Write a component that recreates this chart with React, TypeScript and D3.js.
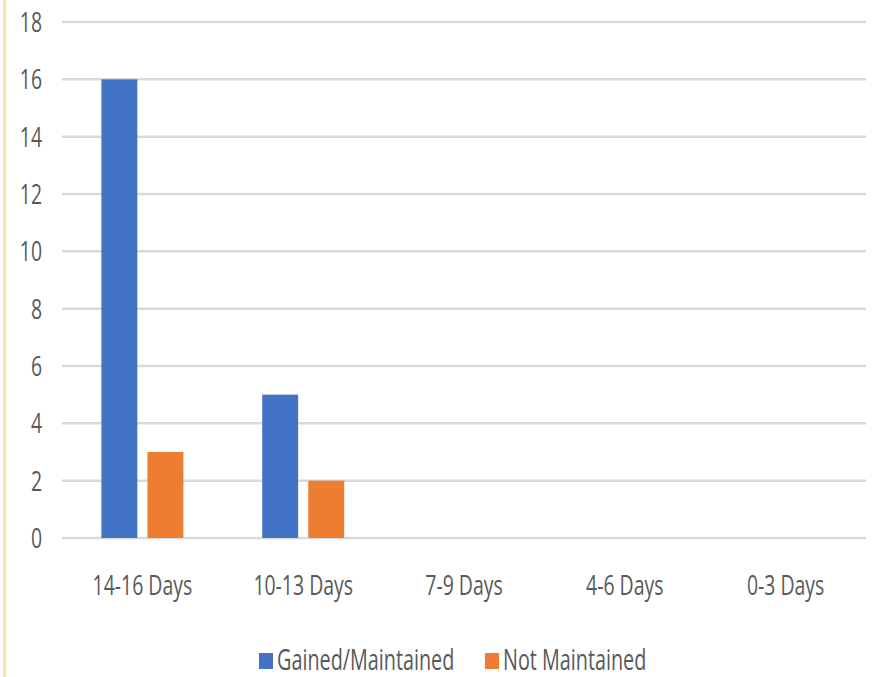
import React from "react";
import * as d3 from "d3";

const categories = ["14-16 Days", "10-13 Days", "7-9 Days", "4-6 Days", "0-3 Days"];
const seriesNames = ["Gained/Maintained", "Not Maintained"];
const gainedValues = [16, 5, 0, 0, 0];
const notMaintainedValues = [3, 2, 0, 0, 0];
const yTicks = [0, 2, 4, 6, 8, 10, 12, 14, 16, 18];
const colors = ["#4472C4", "#ED7D31"];

const W = 875;
const H = 677;
const FONT = "'Open Sans', 'Liberation Sans', sans-serif";
const SX = 0.72;

export default function App() {
  const y = d3.scaleLinear().domain([0, 18]).range([538, 22]);
  const x0 = d3
    .scaleBand<string>()
    .domain(categories)
    .range([62, 866])
    .paddingInner(0.49)
    .paddingOuter(0.245);
  const x1 = d3
    .scaleBand<string>()
    .domain(seriesNames)
    .range([0, x0.bandwidth()])
    .paddingInner(0.22);
  const seriesValues = [gainedValues, notMaintainedValues];

  return (
    <div style={{ position: "absolute", left: 0, top: 0 }}>
      <svg width={W} height={H} style={{ display: "block", background: "#fff" }}>
        <rect x={0} y={0} width={W} height={H} fill="#fff" />
        <rect x={3} y={0} width={3} height={H} fill="#fbe3a2" />
        {yTicks.map((t) => (
          <g key={t}>
            <line x1={62} x2={866} y1={y(t)} y2={y(t)} stroke="#d9d9d9" strokeWidth={2.5} />
            <g transform={`translate(42,${y(t) + 10}) scale(${SX},1)`}>
              <text textAnchor="end" fontFamily={FONT} fontSize={27} fill="#595959">
                {t}
              </text>
            </g>
          </g>
        ))}
        {categories.map((c, i) => (
          <g key={c}>
            {seriesNames.map((s, j) => {
              const v = seriesValues[j][i];
              if (v <= 0) return null;
              return (
                <rect
                  key={s}
                  x={(x0(c) as number) + (x1(s) as number)}
                  y={y(v)}
                  width={x1.bandwidth()}
                  height={y(0) - y(v)}
                  fill={colors[j]}
                />
              );
            })}
            <g
              transform={`translate(${(x0(c) as number) + x0.bandwidth() / 2},595) scale(${SX},1)`}
            >
              <text textAnchor="middle" fontFamily={FONT} fontSize={27} fill="#595959">
                {c}
              </text>
            </g>
          </g>
        ))}
        {seriesNames.map((s, j) => {
          const lx = j === 0 ? 259 : 485;
          return (
            <g key={s}>
              <rect x={lx} y={653} width={14} height={16} fill={colors[j]} />
              <g transform={`translate(${lx + 18},670) scale(0.66,1)`}>
                <text fontFamily={FONT} fontSize={30} fill="#595959">
                  {s}
                </text>
              </g>
            </g>
          );
        })}
      </svg>
    </div>
  );
}
